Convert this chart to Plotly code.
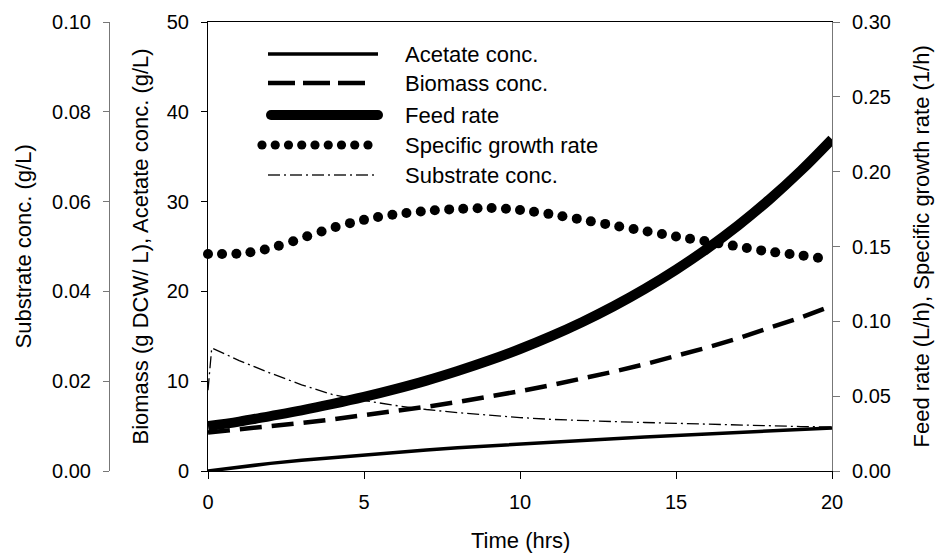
import plotly.graph_objects as go

# ---------------- data ----------------
time_h = [0, 1, 2, 3, 4, 5, 6, 7, 8, 9, 10, 11, 12, 13, 14, 15, 16, 17, 18, 19, 20]
acetate = [0, 0.45, 0.85, 1.2, 1.5, 1.8, 2.07, 2.33, 2.58, 2.8, 3.02, 3.22, 3.42,
           3.6, 3.78, 3.95, 4.13, 4.3, 4.46, 4.63, 4.8]
biomass = [4.3, 4.62, 4.97, 5.35, 5.75, 6.18, 6.65, 7.15, 7.69, 8.27, 8.89, 9.56,
           10.28, 11.06, 11.89, 12.79, 13.75, 14.79, 15.9, 17.1, 18.4]
feed_rate = [0.030, 0.033, 0.0367, 0.0405, 0.0448, 0.0495, 0.0547, 0.0604, 0.0668,
             0.0738, 0.0815, 0.0901, 0.0996, 0.1101, 0.1217, 0.1345, 0.1486, 0.1642,
             0.1815, 0.2006, 0.2217]

substrate_t = [0, 0.12, 0.5, 1, 2, 3, 4, 5, 6, 7, 8, 9, 10, 11, 12, 13, 14, 15,
               16, 17, 18, 19, 20]
substrate = [0.018, 0.0274, 0.0262, 0.0246, 0.0218, 0.0192, 0.0170, 0.0157, 0.0146,
             0.0137, 0.0130, 0.0124, 0.0119, 0.0115, 0.0112, 0.0110, 0.0108, 0.0106,
             0.0104, 0.0102, 0.0100, 0.0099, 0.0098]

mu_t = [0, 0.45, 0.91, 1.36, 1.82, 2.27, 2.73, 3.18, 3.64, 4.09, 4.55, 5.0, 5.45,
        5.91, 6.36, 6.82, 7.27, 7.73, 8.18, 8.64, 9.09, 9.55, 10.0, 10.45, 10.91,
        11.36, 11.82, 12.27, 12.73, 13.18, 13.64, 14.09, 14.55, 15.0, 15.45, 15.91,
        16.36, 16.82, 17.27, 17.73, 18.18, 18.64, 19.09, 19.55]
mu = [0.1450, 0.1450, 0.1452, 0.1462, 0.1480, 0.1505, 0.1535, 0.1568, 0.1600, 0.1630,
      0.1656, 0.1678, 0.1697, 0.1712, 0.1724, 0.1734, 0.1742, 0.1748, 0.1752, 0.1755,
      0.1757, 0.1752, 0.1744, 0.1732, 0.1718, 0.1702, 0.1686, 0.1668, 0.1651, 0.1634,
      0.1617, 0.1600, 0.1584, 0.1567, 0.1552, 0.1537, 0.1521, 0.1506, 0.1490, 0.1474,
      0.1461, 0.1450, 0.1439, 0.1425]

x_ticks = [0, 5, 10, 15, 20]
legend_labels = ["Acetate conc.", "Biomass conc.", "Feed rate",
                 "Specific growth rate", "Substrate conc."]

# ---------------- layout geometry (pixels) ----------------
W, H = 937, 555
PL, PR, PT, PB = 208, 832, 22, 471
OUTER_X = 109
FONT = "Liberation Sans, Arial, sans-serif"
FS_TICK = 20
FS_TEXT = 22

def px(x):
    return x / W

def py(y):
    return 1 - y / H

SUB_DASH = "12px,4px,2px,4px"
BIO_DASH = "22px,10px"

fig = go.Figure()
fig.add_trace(go.Scatter(x=time_h, y=acetate, mode="lines", name=legend_labels[0],
                         line=dict(color="black", width=3.5), yaxis="y"))
fig.add_trace(go.Scatter(x=time_h, y=biomass, mode="lines", name=legend_labels[1],
                         line=dict(color="black", width=4.5, dash=BIO_DASH), yaxis="y"))
fig.add_trace(go.Scatter(x=time_h, y=feed_rate, mode="lines", name=legend_labels[2],
                         line=dict(color="black", width=10, shape="spline"), yaxis="y3"))
fig.add_trace(go.Scatter(x=mu_t, y=mu, mode="markers", name=legend_labels[3],
                         marker=dict(color="black", size=10), cliponaxis=False, yaxis="y3"))
fig.add_trace(go.Scatter(x=substrate_t, y=substrate, mode="lines", name=legend_labels[4],
                         line=dict(color="black", width=1.3, dash=SUB_DASH), yaxis="y2"))

tickfont = dict(family=FONT, size=FS_TICK, color="black")
fig.update_layout(
    width=W, height=H,
    margin=dict(l=0, r=0, t=0, b=0, autoexpand=False),
    paper_bgcolor="white", plot_bgcolor="white",
    showlegend=False,
    font=dict(family=FONT, size=FS_TICK, color="black"),
    xaxis=dict(domain=[px(PL), px(PR)], range=[0, 20], tickvals=x_ticks,
               ticks="outside", ticklen=7, tickcolor="black", showline=True,
               linecolor="black", linewidth=1, mirror=True, showgrid=False,
               zeroline=False, tickfont=tickfont, ticklabelstandoff=6),
    yaxis=dict(domain=[py(PB), py(PT)], range=[0, 50], dtick=10, ticks="outside",
               ticklen=6, tickcolor="black", showline=True, linecolor="black",
               linewidth=1, showgrid=False, zeroline=False, tickfont=tickfont,
               ticklabelstandoff=8),
    yaxis2=dict(overlaying="y", side="left", anchor="free", position=px(OUTER_X),
                range=[0, 0.10], dtick=0.02, tickformat=".2f", ticks="outside",
                ticklen=6, tickcolor="#777", showline=True, linecolor="#777",
                linewidth=1, showgrid=False, zeroline=False, tickfont=tickfont,
                ticklabelstandoff=8),
    yaxis3=dict(overlaying="y", side="right", anchor="x", range=[0, 0.30],
                dtick=0.05, tickformat=".2f", ticks="outside", ticklen=7,
                tickcolor="#777", showline=True, linecolor="#777", linewidth=1,
                showgrid=False, zeroline=False, tickfont=tickfont,
                ticklabelstandoff=8),
)

mid_y = (PT + PB) / 2
ann = [
    dict(text="Time (hrs)", x=px((PL + PR) / 2), y=py(540)),
    dict(text="Substrate conc. (g/L)", x=px(23), y=py(mid_y), textangle=-90),
    dict(text="Biomass (g DCW/ L), Acetate conc. (g/L)", x=px(140), y=py(mid_y), textangle=-90),
    dict(text="Feed rate (L/h), Specific growth rate (1/h)", x=px(921), y=py(mid_y), textangle=-90),
]
for a in ann:
    a.update(xref="paper", yref="paper", showarrow=False, xanchor="center",
             yanchor="middle", font=dict(family=FONT, size=FS_TEXT, color="black"))
    fig.add_annotation(**a)

# ---------------- hand-drawn legend ----------------
rows = [54, 83, 115, 145, 175]
LX0, LX1, TX = 268, 378, 403
shapes = []
shapes.append(dict(type="line", x0=px(LX0), x1=px(LX1), y0=py(rows[0]), y1=py(rows[0]),
                   line=dict(color="black", width=3.5)))
shapes.append(dict(type="line", x0=px(LX0), x1=px(366), y0=py(rows[1]), y1=py(rows[1]),
                   line=dict(color="black", width=4.5, dash="27px,8px")))
shapes.append(dict(type="line", x0=px(LX0 + 3), x1=px(LX1), y0=py(rows[2]), y1=py(rows[2]),
                   line=dict(color="black", width=10)))
for cx in (LX0 + 3, LX1):
    shapes.append(dict(type="circle", x0=px(cx - 5), x1=px(cx + 5),
                       y0=py(rows[2] - 5), y1=py(rows[2] + 5),
                       fillcolor="black", line=dict(color="black", width=0)))
for i in range(9):
    cx = 262 + i * 13.25
    shapes.append(dict(type="circle", x0=px(cx - 4.6), x1=px(cx + 4.6),
                       y0=py(rows[3] - 4.6), y1=py(rows[3] + 4.6),
                       fillcolor="black", line=dict(color="black", width=0)))
shapes.append(dict(type="line", x0=px(LX0), x1=px(LX1), y0=py(rows[4]), y1=py(rows[4]),
                   line=dict(color="#222", width=1.3, dash=SUB_DASH)))
for s in shapes:
    s.update(xref="paper", yref="paper")
    fig.add_shape(**s)

for lab, ry in zip(legend_labels, rows):
    fig.add_annotation(text=lab, x=px(TX), y=py(ry), xref="paper", yref="paper",
                       showarrow=False, xanchor="left", yanchor="middle",
                       font=dict(family=FONT, size=FS_TEXT, color="black"))

fig.write_html("out.html")
